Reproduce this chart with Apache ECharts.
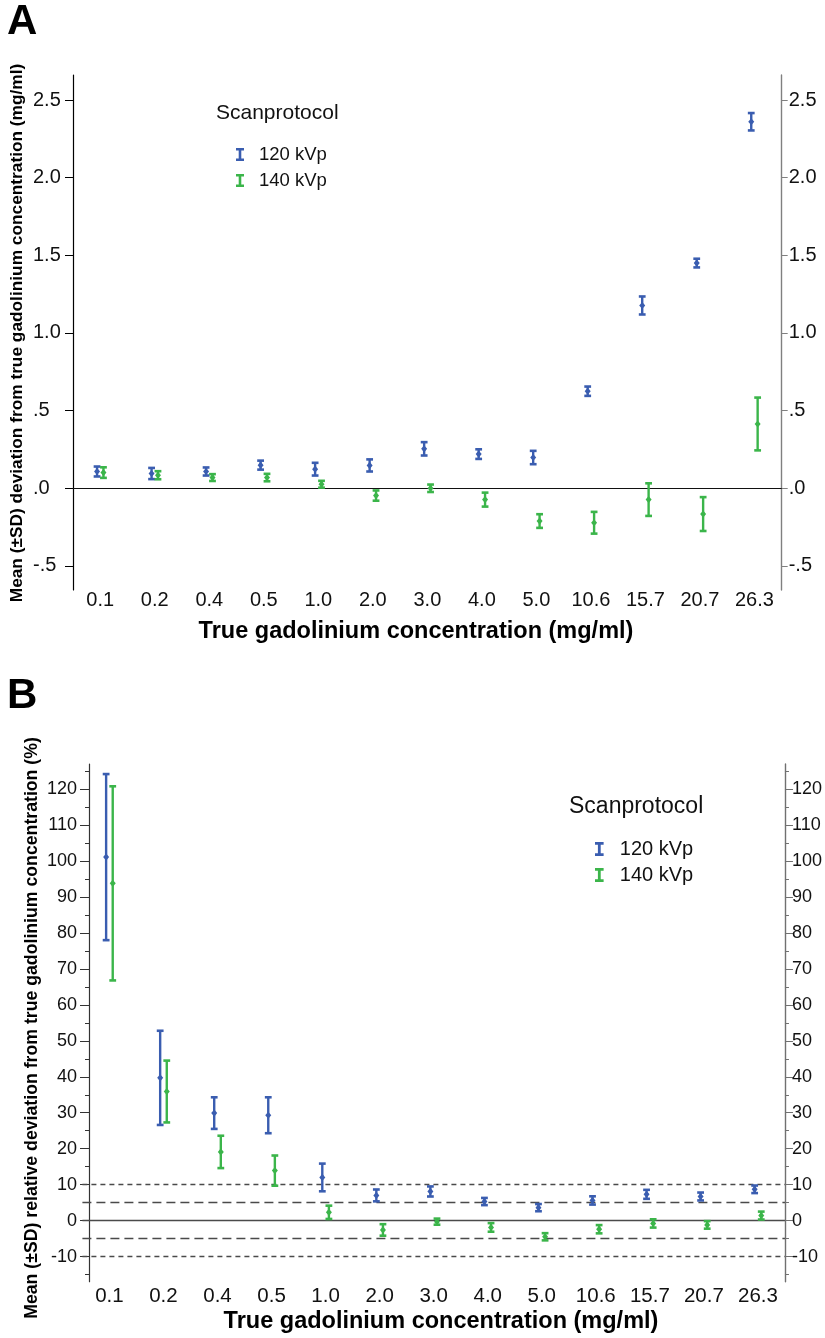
<!DOCTYPE html>
<html>
<head>
<meta charset="utf-8">
<title>Gadolinium concentration deviation</title>
<script src="https://cdn.jsdelivr.net/npm/echarts@6/dist/echarts.min.js"></script>
<style>
  html, body { margin: 0; padding: 0; background: #fff; }
  #chart { width: 825px; height: 1338px; }
</style>
</head>
<body>
<div id="chart"></div>
<script>
// True gadolinium concentrations (mg/ml), one category per phantom insert
const categories = ['0.1', '0.2', '0.4', '0.5', '1.0', '2.0', '3.0', '4.0', '5.0', '10.6', '15.7', '20.7', '26.3'];

// Panel A: absolute deviation (mg/ml), mean and SD per scan protocol
const absMean120 = [0.108, 0.095, 0.108, 0.149, 0.123, 0.147, 0.254, 0.220, 0.198, 0.625, 1.177, 1.450, 2.360];
const absSd120   = [0.032, 0.036, 0.026, 0.029, 0.041, 0.039, 0.043, 0.031, 0.043, 0.030, 0.058, 0.028, 0.056];
const absMean140 = [0.101, 0.084, 0.069, 0.069, 0.026, -0.047, 0.000, -0.073, -0.211, -0.222, -0.073, -0.166, 0.414];
const absSd140   = [0.034, 0.026, 0.022, 0.024, 0.022, 0.033, 0.024, 0.045, 0.044, 0.070, 0.105, 0.109, 0.170];

// Panel B: relative deviation (%), mean and SD per scan protocol
const relMean120 = [101.1, 39.7, 29.9, 29.3, 12.0, 7.0, 8.1, 5.3, 3.6, 5.6, 7.3, 6.7, 8.7];
const relSd120   = [23.1, 13.1, 4.4, 5.0, 3.85, 1.65, 1.4, 1.0, 1.0, 1.15, 1.25, 1.1, 1.05];
const relMean140 = [93.8, 35.9, 19.1, 13.9, 2.3, -2.6, -0.3, -1.9, -4.5, -2.4, -0.8, -1.2, 1.4];
const relSd140   = [27.0, 8.6, 4.5, 4.2, 1.85, 1.6, 0.85, 1.2, 1.0, 1.15, 1.15, 1.05, 1.1];

// Axis ticks
const absTickValues = [-0.5, 0, 0.5, 1, 1.5, 2, 2.5];
const absTickLabels = ['-.5', '.0', '.5', '1.0', '1.5', '2.0', '2.5'];
const relTickValues = [-10, 0, 10, 20, 30, 40, 50, 60, 70, 80, 90, 100, 110, 120];
const relMinorTicks = [-15, -5, 5, 15, 25, 35, 45, 55, 65, 75, 85, 95, 105, 115, 125];
const relRefLines = [-10, -5, 0, 5, 10];

const seriesNames = ['120 kVp', '140 kVp'];
const BLUE = '#3a5db0';
const GREEN = '#3bb54a';
const FONT = '"Liberation Sans", Arial, Helvetica, sans-serif';

function toItems(means, sds) {
  return means.map((m, i) => [i, m, sds[i]]);
}

// Error bar glyph: vertical whisker, two caps and a diamond at the mean,
// nudged sideways so the two protocols sit next to each other.
function errorBar(shift) {
  return function (params, api) {
    const i = api.value(0), m = api.value(1), s = api.value(2);
    const c = api.coord([i, m]);
    const hi = api.coord([i, m + s]);
    const lo = api.coord([i, m - s]);
    const x = c[0] + shift;
    const col = api.visual('color');
    const cap = 3.4;
    const st = { stroke: col, lineWidth: 2.4 };
    const capSt = { stroke: col, lineWidth: 2.6 };
    return {
      type: 'group',
      children: [
        { type: 'line', shape: { x1: x, y1: hi[1], x2: x, y2: lo[1] }, style: st },
        { type: 'line', shape: { x1: x - cap, y1: hi[1], x2: x + cap, y2: hi[1] }, style: capSt },
        { type: 'line', shape: { x1: x - cap, y1: lo[1], x2: x + cap, y2: lo[1] }, style: capSt },
        { type: 'polygon', shape: { points: [[x, c[1] - 3.6], [x + 3, c[1]], [x, c[1] + 3.6], [x - 3, c[1]]] }, style: { fill: col } }
      ]
    };
  };
}

const legendIcon = 'path://M0,0L8,0L8,2.6L5.3,2.6L5.3,10.4L8,10.4L8,13L0,13L0,10.4L2.7,10.4L2.7,2.6L0,2.6Z';

function xAxisFor(gridIndex, margin, size) {
  return {
    type: 'category', gridIndex: gridIndex, data: categories, boundaryGap: true,
    axisLine: { show: false }, axisTick: { show: false }, splitLine: { show: false },
    axisLabel: { color: '#111', fontFamily: FONT, fontSize: size, margin: margin, interval: 0 }
  };
}

const chart = echarts.init(document.getElementById('chart'), null, { renderer: 'canvas' });

const option = {
  animation: false,
  backgroundColor: '#fff',
  grid: [
    { left: 73, top: 75, width: 708.7, height: 515 },
    { left: 82.4, top: 764, width: 705.5, height: 517.7 }
  ],
  xAxis: [
    xAxisFor(0, 0, 20),
    xAxisFor(1, 4, 20.5)
  ],
  yAxis: [
    {
      type: 'value', gridIndex: 0, position: 'left', min: -0.655, max: 2.661,
      splitLine: { show: false },
      axisLine: { show: true, lineStyle: { color: '#000', width: 1.2 } },
      axisTick: { show: true, length: 8, customValues: absTickValues, lineStyle: { color: '#000' } },
      axisLabel: {
        customValues: absTickValues, align: 'left', margin: 40, color: '#111', fontFamily: FONT, fontSize: 20,
        formatter: v => absTickLabels[absTickValues.indexOf(v)]
      }
    },
    {
      type: 'value', gridIndex: 0, position: 'right', min: -0.655, max: 2.661,
      splitLine: { show: false },
      axisLine: { show: true, lineStyle: { color: '#808080', width: 1.4 } },
      axisTick: { show: true, length: 6, customValues: absTickValues, lineStyle: { color: '#808080' } },
      axisLabel: {
        customValues: absTickValues, margin: 7, color: '#111', fontFamily: FONT, fontSize: 20,
        formatter: v => absTickLabels[absTickValues.indexOf(v)]
      }
    },
    {
      type: 'value', gridIndex: 1, position: 'left', offset: -6.6, min: -17, max: 127,
      splitLine: { show: false },
      axisLine: { show: true, lineStyle: { color: '#333', width: 1.2 } },
      axisTick: { show: true, length: 9, customValues: relTickValues, lineStyle: { color: '#333' } },
      axisLabel: { customValues: relTickValues, margin: 12, color: '#111', fontFamily: FONT, fontSize: 18 }
    },
    {
      type: 'value', gridIndex: 1, position: 'left', offset: -6.6, min: -17, max: 127,
      splitLine: { show: false }, axisLine: { show: false }, axisLabel: { show: false },
      axisTick: { show: true, length: 4, customValues: relMinorTicks, lineStyle: { color: '#333' } }
    },
    {
      type: 'value', gridIndex: 1, position: 'right', min: -17, max: 127,
      splitLine: { show: false },
      axisLine: { show: true, lineStyle: { color: '#707070', width: 1.4 } },
      axisTick: { show: true, length: 8, customValues: relTickValues, lineStyle: { color: '#707070' } },
      axisLabel: { customValues: relTickValues, margin: 7, color: '#111', fontFamily: FONT, fontSize: 18 }
    },
    {
      type: 'value', gridIndex: 1, position: 'right', min: -17, max: 127,
      splitLine: { show: false }, axisLine: { show: false }, axisLabel: { show: false },
      axisTick: { show: true, length: 4, customValues: relMinorTicks, lineStyle: { color: '#707070' } }
    }
  ],
  legend: [
    {
      data: seriesNames, orient: 'vertical', left: 231, top: 140, itemWidth: 8, itemHeight: 13, itemGap: 7,
      icon: legendIcon, selectedMode: false,
      textStyle: { color: '#111', fontFamily: FONT, fontSize: 18.5, padding: [0, 0, 0, 10] }
    },
    {
      data: seriesNames, orient: 'vertical', left: 590, top: 834, itemWidth: 9, itemHeight: 14, itemGap: 6,
      icon: legendIcon, selectedMode: false,
      textStyle: { color: '#111', fontFamily: FONT, fontSize: 20, padding: [0, 0, 0, 11] }
    }
  ],
  graphic: [
    { type: 'text', left: 7, top: 1, style: { text: 'A', font: 'bold 42px ' + FONT, fill: '#000' } },
    { type: 'text', left: 7, top: 675, style: { text: 'B', font: 'bold 42px ' + FONT, fill: '#000' } },
    {
      type: 'text', x: 17, y: 333, rotation: Math.PI / 2,
      style: { text: 'Mean (±SD) deviation from true gadolinium concentration (mg/ml)', font: 'bold 17.3px ' + FONT, fill: '#000', align: 'center', verticalAlign: 'middle' }
    },
    {
      type: 'text', x: 32, y: 1028, rotation: Math.PI / 2,
      style: { text: 'Mean (±SD) relative deviation from true gadolinium concentration (%)', font: 'bold 17.7px ' + FONT, fill: '#000', align: 'center', verticalAlign: 'middle' }
    },
    {
      type: 'text', x: 416, y: 632,
      style: { text: 'True gadolinium concentration (mg/ml)', font: 'bold 23.5px ' + FONT, fill: '#000', align: 'center', verticalAlign: 'middle' }
    },
    {
      type: 'text', x: 441, y: 1322,
      style: { text: 'True gadolinium concentration (mg/ml)', font: 'bold 23.5px ' + FONT, fill: '#000', align: 'center', verticalAlign: 'middle' }
    },
    {
      type: 'text', x: 216, y: 113,
      style: { text: 'Scanprotocol', font: '21px ' + FONT, fill: '#111', align: 'left', verticalAlign: 'middle' }
    },
    {
      type: 'text', x: 569, y: 807,
      style: { text: 'Scanprotocol', font: '23px ' + FONT, fill: '#111', align: 'left', verticalAlign: 'middle' }
    }
  ],
  series: [
    {
      name: seriesNames[0], type: 'custom', xAxisIndex: 0, yAxisIndex: 0, z: 3,
      color: BLUE, itemStyle: { color: BLUE },
      renderItem: errorBar(-3.2), encode: { x: 0, y: 1 },
      data: toItems(absMean120, absSd120),
      markLine: {
        silent: true, symbol: 'none', z: 1, label: { show: false },
        lineStyle: { color: '#111', width: 1.2, type: 'solid' },
        data: [{ yAxis: 0 }]
      }
    },
    {
      name: seriesNames[1], type: 'custom', xAxisIndex: 0, yAxisIndex: 0, z: 3,
      color: GREEN, itemStyle: { color: GREEN },
      renderItem: errorBar(3.2), encode: { x: 0, y: 1 },
      data: toItems(absMean140, absSd140)
    },
    {
      name: seriesNames[0], type: 'custom', xAxisIndex: 1, yAxisIndex: 2, z: 3,
      color: BLUE, itemStyle: { color: BLUE },
      renderItem: errorBar(-3.3), encode: { x: 0, y: 1 },
      data: toItems(relMean120, relSd120),
      markLine: {
        silent: true, symbol: 'none', z: 1, label: { show: false },
        data: relRefLines.map(v => ({
          yAxis: v,
          lineStyle: {
            color: '#4a4a4a', width: 1.3,
            type: v === 0 ? 'solid' : (Math.abs(v) === 5 ? [9, 5] : [5, 4])
          }
        }))
      }
    },
    {
      name: seriesNames[1], type: 'custom', xAxisIndex: 1, yAxisIndex: 2, z: 3,
      color: GREEN, itemStyle: { color: GREEN },
      renderItem: errorBar(3.3), encode: { x: 0, y: 1 },
      data: toItems(relMean140, relSd140)
    }
  ]
};

chart.setOption(option);
</script>
</body>
</html>
